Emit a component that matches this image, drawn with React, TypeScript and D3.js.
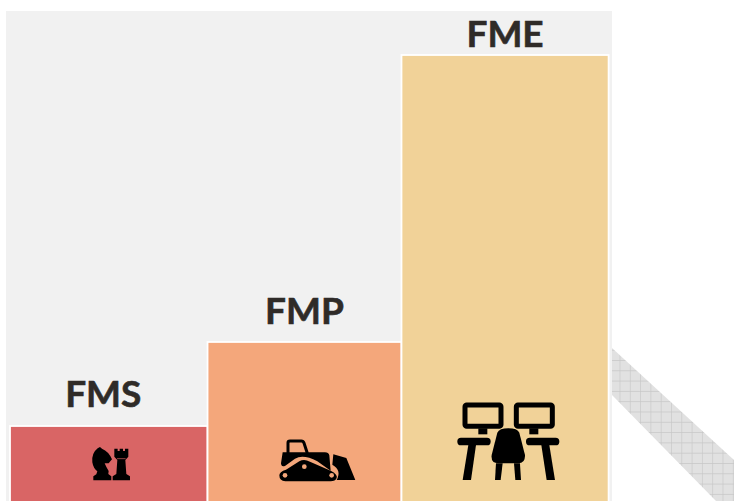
import React from "react";
import * as d3 from "d3";

const categories = ["FMS", "FMP", "FME"];
const heightValues = [17, 35.8, 100];
const widthShares = [33, 32.4, 34.6];
const barColors = ["#d96565", "#f4a77b", "#f1d298"];
const labelOffsets = [19.5, 17.5, 8];
const ribbonTop = [[612, 348], [734, 460]];
const ribbonBottom = [[612, 395], [716, 501]];

const W = 734;
const H = 501;
const x = d3.scaleLinear().domain([0, d3.sum(widthShares)]).range([10, 608.6]);
const y = d3.scaleLinear().domain([0, 100]).range([502, 55]);
const starts = d3.cumsum([0, ...widthShares]);
const ribbonPath = d3.line()([...ribbonTop, [734, 501], ...ribbonBottom.slice().reverse()]) + "Z";

function Chess({ fill }: { fill: string }) {
  return (
    <g transform="translate(0,360) scale(0.3333)" fill="#000">
      <path d="M280 361 L334 361 L334 349 L325 342 L326 333 Q318 320 314 310 L326 310 L336 298 Q326 274 306 266 L300 261 L293 265 Q274 280 277 307 Q280 325 292 334 L289 343 L280 349 Z" />
      <path d="M338 361 L390 361 L390 349 L379 342 L376 300 L385 290 L385 266 L375 266 L375 273 L369 273 L369 266 L359 266 L359 273 L353 273 L353 266 L343 266 L343 290 L352 300 L349 342 L338 349 Z" />
      <path d="M351 296 L377 296" stroke={fill} strokeWidth="2" />
    </g>
  );
}

function Dozer({ fill }: { fill: string }) {
  return (
    <g transform="translate(260,420) scale(0.3333)" fill="#000">
      <path d="M84 100 L84 68 Q84 63 90 63 L124 63 Q130 63 132 69 L142 100" fill="none" stroke="#000" strokeWidth="9" />
      <path d="M68 97 L195 97 Q206 97 208 106 L212 152 L172 124 Q130 102 105 116 L76 137 Q64 143 63 130 Z" />
      <path d="M78 149 L118 124 Q132 116 150 125 L212 152 Q234 163 230 174 Q226 184 212 184 L76 184 Q58 183 58 166 Q58 155 78 149 Z" />
      <circle cx="75" cy="166" r="7" fill={fill} />
      <circle cx="133" cy="140" r="7" fill={fill} />
      <circle cx="215" cy="166" r="7" fill={fill} />
      <path d="M220 103 L259 114 L286 180 L230 180 Q246 150 217 134 Z" />
    </g>
  );
}

function Desk({ fill }: { fill: string }) {
  return (
    <g transform="translate(440,390) scale(0.3333)" fill="#000">
      <rect x="75" y="45" width="108" height="64" rx="5" fill="none" stroke="#000" strokeWidth="15" />
      <rect x="229" y="45" width="108" height="64" rx="5" fill="none" stroke="#000" strokeWidth="15" />
      <rect x="115" y="115" width="27" height="18" />
      <rect x="268" y="115" width="27" height="18" />
      <rect x="52" y="143" width="100" height="23" rx="11" />
      <rect x="258" y="143" width="100" height="23" rx="11" />
      <path d="M85 165 L108 165 L93 270 L68 270 Z" />
      <path d="M304 165 L328 165 L345 270 L320 270 Z" />
      <path d="M172 128 Q178 115 205 115 Q232 115 238 128 L255 195 Q256 220 235 220 L175 220 Q152 220 155 195 Z" stroke={fill} strokeWidth="5" paintOrder="stroke" />
      <path d="M168 220 L188 220 L182 270 L165 270 Z" />
      <path d="M222 220 L240 220 L243 270 L226 270 Z" />
    </g>
  );
}

const icons = [Chess, Dozer, Desk];

export default function App() {
  return (
    <svg width={W} height={H} style={{ position: "absolute", left: 0, top: 0, display: "block" }}>
      <defs>
        <pattern id="hatch" patternUnits="userSpaceOnUse" width="10.3" height="10.3" x="1.5" y="-0.5">
          <rect width="10.3" height="10.3" fill="#e1e1e1" />
          <path d="M0 0 H10.3 M0 0 V10.3" stroke="#c6c6c6" strokeWidth="1.2" />
        </pattern>
      </defs>
      <rect width={W} height={H} fill="#fff" />
      <rect x={6} y={11} width={606} height={490} fill="#f1f1f1" />
      <path d={ribbonPath} fill="url(#hatch)" />
      {categories.map((c, i) => {
        const x0 = x(starts[i]);
        const x1 = x(starts[i + 1]);
        const top = y(heightValues[i]);
        const Icon = icons[i];
        return (
          <g key={c}>
            <rect x={x0} y={top} width={x1 - x0} height={y(0) - top} fill={barColors[i]} stroke="#fff" strokeWidth={1.8} />
            <text
              x={(x0 + x1) / 2 - (i === 0 ? 5.5 : 0)}
              y={top - labelOffsets[i]}
              textAnchor="middle"
              fontFamily="Lato, 'Open Sans', sans-serif"
              fontWeight="700"
              fontSize={37}
              fill="#2f2b28"
              stroke="#2f2b28"
              strokeWidth={0.6}
            >
              {c}
            </text>
            <Icon fill={barColors[i]} />
          </g>
        );
      })}
    </svg>
  );
}
